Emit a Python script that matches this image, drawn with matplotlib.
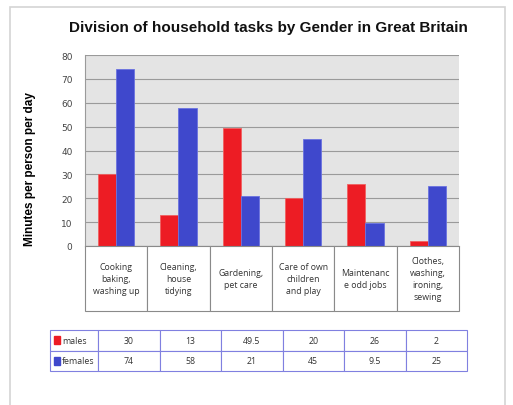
import matplotlib
matplotlib.use("Agg")
import matplotlib.pyplot as plt
from matplotlib.patches import Rectangle
import numpy as np

# data
tasks = ["Cooking\nbaking,\nwashing up", "Cleaning,\nhouse\ntidying", "Gardening,\npet care",
         "Care of own\nchildren\nand play", "Maintenanc\ne odd jobs", "Clothes,\nwashing,\nironing,\nsewing"]
males = [30, 13, 49.5, 20, 26, 2]
females = [74, 58, 21, 45, 9.5, 25]
males_txt = ["30", "13", "49.5", "20", "26", "2"]
females_txt = ["74", "58", "21", "45", "9.5", "25"]
series = ["males", "females"]

red = "#ed1c24"
blue = "#3f48cc"
W, H = 513, 406

fig = plt.figure(figsize=(W / 100, H / 100), dpi=100)

# light outer frame
fig.patches.append(Rectangle((10 / W, -0.05), 495 / W, 1 - 8 / H + 0.05, transform=fig.transFigure,
                             fill=False, edgecolor="#d4d4d4", lw=1.2))

ax = fig.add_axes([85 / W, 1 - 247 / H, 374 / W, 191 / H])
ax.set_facecolor("#e4e4e4")
x = np.arange(len(tasks))
bw = 0.29
ax.bar(x - bw / 2, males, bw, color=red, edgecolor="#f06060", lw=0.6, zorder=3)
ax.bar(x + bw / 2, females, bw, color=blue, edgecolor="#6a72e0", lw=0.6, zorder=3)
ax.set_xlim(-0.5, len(tasks) - 0.5)
ax.set_ylim(0, 80)
ax.set_yticks(range(0, 81, 10))
ax.yaxis.grid(True, color="#9a9a9a", lw=0.8)
ax.set_axisbelow(True)
ax.set_xticks([])
ax.tick_params(axis="y", length=0, pad=9, labelsize=6.5, labelcolor="#444444")
for s in ["top", "right"]:
    ax.spines[s].set_visible(False)
ax.spines["left"].set_color("#9a9a9a")
ax.spines["bottom"].set_color("#9a9a9a")
ax.set_ylabel("Minutes per person per day", fontsize=8.5, fontweight="bold", family="Liberation Sans")
ax.yaxis.set_label_coords(-0.13, 0.41)

fig.text(268 / W, 1 - 28 / H, "Division of household tasks by Gender in Great Britain",
         ha="center", va="center", fontsize=11, fontweight="bold", family="Liberation Sans", color="#111111")

# category label boxes
cax = fig.add_axes([85 / W, 1 - 312 / H, 374 / W, 65 / H])
cax.axis("off")
ct = cax.table(cellText=[tasks], cellLoc="center", bbox=[0, 0, 1, 1])
ct.auto_set_font_size(False)
for cell in ct.get_celld().values():
    cell.set_edgecolor("#8a8a8a")
    cell.set_linewidth(0.8)
    t = cell.get_text()
    t.set_fontsize(6.3)
    t.set_color("#333333")
    t.set_family("Open Sans")
    t.set_linespacing(1.45)

# data table
tax = fig.add_axes([50 / W, 1 - 372 / H, 417 / W, 41 / H])
tax.axis("off")
rows = [[""] + males_txt, [""] + females_txt]
tt = tax.table(cellText=rows, cellLoc="center", bbox=[0, 0, 1, 1],
               colWidths=[48] + [369 / 6] * 6)
tt.auto_set_font_size(False)
for (r, c), cell in tt.get_celld().items():
    cell.set_edgecolor("#8080e0")
    cell.set_linewidth(0.8)
    cell.get_text().set_fontsize(6.3)
    cell.get_text().set_color("#333333")
    cell.get_text().set_family("Open Sans")
for i, (name, col) in enumerate(zip(series, [red, blue])):
    yc = 0.75 - 0.5 * i
    tax.add_patch(Rectangle((4 / 417, yc - 0.1), 6 / 417, 0.2, color=col, transform=tax.transAxes))
    tax.text(12 / 417, yc, name, fontsize=6.3, color="#333333", family="Open Sans",
             va="center", ha="left", transform=tax.transAxes)

fig.savefig("out.png", dpi=100)
